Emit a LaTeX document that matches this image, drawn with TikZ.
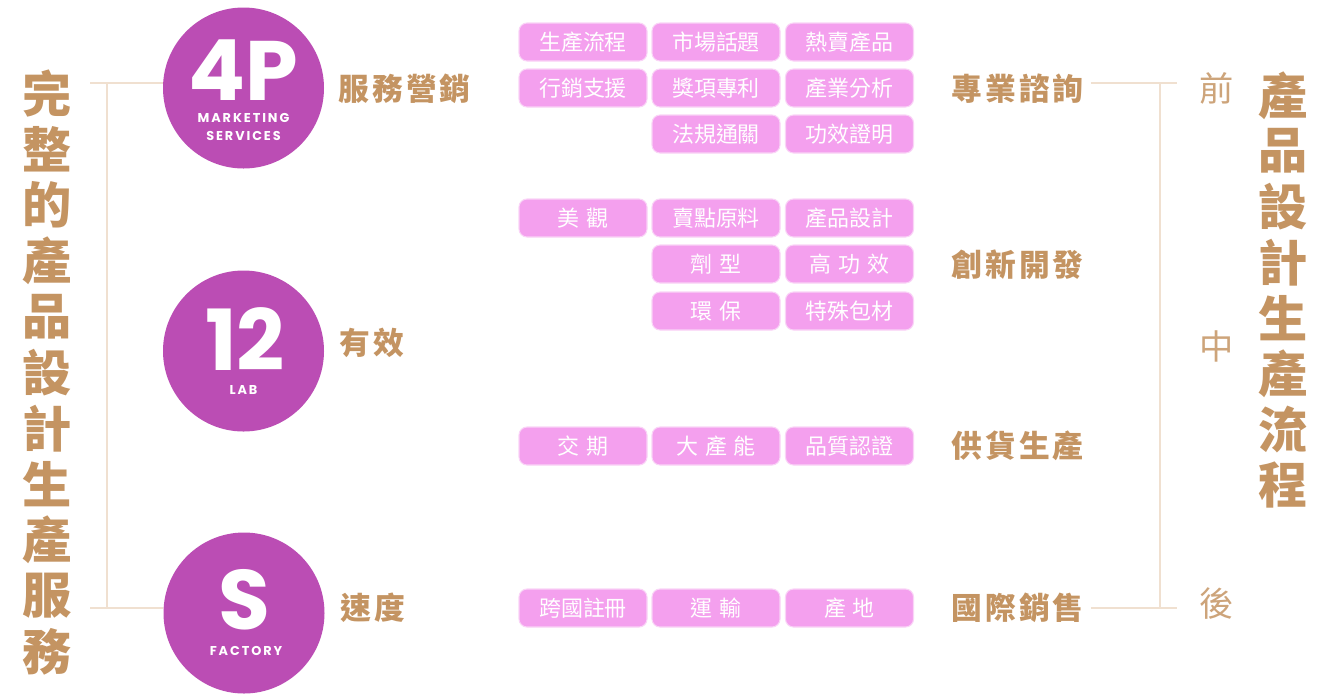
\documentclass[tikz,border=0pt]{standalone}
\usepackage{fontspec}
\setmainfont{Noto Sans CJK TC}
\newfontfamily\cjkwide[LetterSpace=10]{Noto Sans CJK TC}
\newfontfamily\pop{Poppins}
\newfontfamily\popwide[LetterSpace=15]{Poppins}
\usepackage{xcolor}
\definecolor{CircleViolet}{RGB}{187,77,180}
\definecolor{BoxPink}{RGB}{244,160,238}
\definecolor{TanText}{RGB}{196,148,98}
\definecolor{LineTan}{RGB}{240,224,208}
\usepackage{tikz}
\usetikzlibrary{positioning}
\newcommand{\gp}{\hspace{0.3em}}

\tikzset{
  tag/.style={rounded corners=1.6mm,fill=BoxPink,draw=BoxPink!45!white,line width=0.6pt,
    minimum width=25.6mm,minimum height=7.6mm,inner sep=0pt,text=white,
    font=\fontsize{12.5}{14}\selectfont},
  badge/.style={circle,fill=CircleViolet,minimum size=32.2mm,inner sep=0pt},
  bignum/.style={text=white,inner sep=0pt,font=\pop\bfseries\fontsize{48}{50}\selectfont},
  capline/.style={text=white,inner sep=0pt,font=\popwide\bfseries\fontsize{7.3}{8}\selectfont},
  vtext/.style={text=TanText,inner sep=0pt,font=\bfseries\fontsize{28}{30}\selectfont},
  label/.style={text=TanText,inner sep=0pt,anchor=west,font=\cjkwide\bfseries\fontsize{17.5}{19}\selectfont},
  phase/.style={text=TanText!85!white,inner sep=0pt,font=\fontsize{19.5}{21}\selectfont},
  bracket/.style={draw=LineTan,line width=0.7pt}
}

\begin{document}
\begin{tikzpicture}[x=0.2mm,y=-0.2mm]
  \fill[white] (0,0) rectangle (1334,693);
  \useasboundingbox (0,0) rectangle (1334,693);

  % vertical titles
  \foreach \c [count=\i from 0] in {完,整,的,產,品,設,計,生,產,服,務}
    \node[vtext] (lt\i) at (47,93.5+55.8*\i) {\c};
  \foreach \c [count=\i from 0] in {產,品,設,計,生,產,流,程}
    \node[vtext] (rt\i) at (1283,95.5+55.6*\i) {\c};

  % badges
  \node[badge] (c4p) at (243.5,88) {};
  \node[bignum] (n4p) at (243.5,70) {4P};
  \node[capline] (m4p) at (243.5,118) {MARKETING};
  \node[capline] (s4p) at (243.5,136) {SERVICES};
  \node[badge] (c12) at (243.5,351) {};
  \node[bignum] (n12) at (245,339) {12};
  \node[capline] (l12) at (243.5,390) {LAB};
  \node[badge] (cs) at (244,613) {};
  \node[bignum] (ns) at (244,600) {S};
  \node[capline] (fs) at (246,651) {FACTORY};

  \node[label] (fwyx) at (338,89) {服務營銷};
  \node[label] (yx) at (339,343) {有效};
  \node[label] (sd) at (340,608) {速度};

  % left bracket
  \coordinate (ltop) at (90,83);
  \coordinate (lbot) at (90,608);
  \draw[bracket] (ltop) -- (ltop -| c4p.west);
  \draw[bracket] (lbot) -- (lbot -| cs.west);
  \draw[bracket] (107,83) -- (107,608);

  % pink tags
  \node[tag] (a1) at (583,42) {生產流程};
  \node[tag] (a2) at (716,42) {市場話題};
  \node[tag] (a3) at (849.5,42) {熱賣產品};
  \node[tag] (a4) at (583,88) {行銷支援};
  \node[tag] (a5) at (716,88) {獎項專利};
  \node[tag] (a6) at (849.5,88) {產業分析};
  \node[tag] (a7) at (716,134) {法規通關};
  \node[tag] (a8) at (849.5,134) {功效證明};

  \node[tag] (b1) at (583,218) {美\gp 觀};
  \node[tag] (b2) at (716,218) {賣點原料};
  \node[tag] (b3) at (849.5,218) {產品設計};
  \node[tag] (b4) at (716,264) {劑\gp 型};
  \node[tag] (b5) at (849.5,264) {高\gp 功\gp 效};
  \node[tag] (b6) at (716,311) {環\gp 保};
  \node[tag] (b7) at (849.5,311) {特殊包材};

  \node[tag] (c1) at (583,446) {交\gp 期};
  \node[tag] (c2) at (716,446) {大\gp 產\gp 能};
  \node[tag] (c3) at (849.5,446) {品質認證};

  \node[tag] (d1) at (583,608) {跨國註冊};
  \node[tag] (d2) at (716,608) {運\gp 輸};
  \node[tag] (d3) at (849.5,608) {產\gp 地};

  % right labels
  \node[label] (zyzx) at (951,89) {專業諮詢};
  \node[label] (cxkf) at (951,265) {創新開發};
  \node[label] (ghsc) at (951,446) {供貨生產};
  \node[label] (gjxs) at (951,608) {國際銷售};

  % right bracket
  \coordinate (rtop) at (1177,83);
  \coordinate (rbot) at (1177,608);
  \draw[bracket] (zyzx.east |- rtop) ++(7,0) -- (rtop);
  \draw[bracket] (gjxs.east |- rbot) ++(7,0) -- (rbot);
  \draw[bracket] (1160,83) -- (1160,608);

  \node[phase] (qian) at (1217,88) {前};
  \node[phase] (zhong) at (1217,346) {中};
  \node[phase] (hou) at (1217,604) {後};
\end{tikzpicture}
\end{document}
